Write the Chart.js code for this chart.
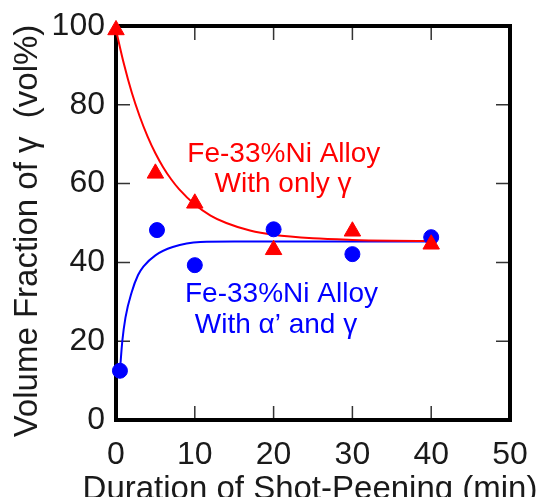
<!DOCTYPE html>
<html>
<head>
<meta charset="utf-8">
<script src="https://cdn.jsdelivr.net/npm/chart.js@4.4.1/dist/chart.umd.min.js"></script>
<style>
  html, body { margin: 0; padding: 0; background: #fff; }
  #wrap { width: 539px; height: 497px; position: relative; }
</style>
</head>
<body>
<div id="wrap"><canvas id="c" width="539" height="497"></canvas></div>
<script>
// ---- data ----
const xTicks = [0, 10, 20, 30, 40, 50];
const yTicks = [0, 20, 40, 60, 80, 100];
const xTitle = 'Duration of Shot-Peening (min)';
const yTitle = 'Volume Fraction of \u03B3  (vol%)';

// Fe-33%Ni alloy with only gamma (red triangles)
const onlyGammaTime = [0, 5, 10, 20, 30, 40];
const onlyGammaVol = [99, 62.6, 55.0, 43.2, 47.9, 44.6];

// Fe-33%Ni alloy with alpha' and gamma (blue circles)
const alphaGammaTime = [0.5, 5.2, 10, 20, 30, 40];
const alphaGammaVol = [12.5, 48.2, 39.3, 48.4, 42.1, 46.4];

// fitted curves
const redCurveTime = [0, 1, 2, 3, 4, 5, 6, 7, 8, 10, 12, 14, 17, 20, 25, 30, 35, 40];
const redCurveVol = [99.0, 90.4, 83.1, 77.1, 72.0, 67.7, 64.1, 61.1, 58.6, 54.7, 51.9, 50.0, 48.1, 47.0, 46.1, 45.7, 45.5, 45.4];
const blueCurveTime = [0.5, 0.8, 1.2, 2, 2.8, 3.5, 5, 7.2, 10.7, 15, 20, 30, 40];
const blueCurveVol = [12.5, 20, 26, 32.5, 36.8, 39, 41.8, 43.9, 45.2, 45.3, 45.3, 45.3, 45.3];

// annotation labels
const labelTexts = ['Fe-33%Ni Alloy', 'With only \u03B3', 'Fe-33%Ni Alloy', 'With \u03B1\u2019 and \u03B3'];
const labelX = [21.3, 21.2, 21.0, 20.3];
const labelY = [65.6, 57.9, 30.0, 22.0];
const labelColors = ['#ff0000', '#ff0000', '#0000ff', '#0000ff'];

const toPts = (xs, ys) => xs.map((x, i) => ({ x: x, y: ys[i] }));

const FONT = '"Liberation Sans", Arial, Helvetica, sans-serif';
const TEXT = '#1a1a1a';

const framePlugin = {
  id: 'frame',
  beforeDatasetsDraw(chart) {
    const { ctx, chartArea: a, scales } = chart;
    const xs = scales.x, ys = scales.y;
    ctx.save();
    ctx.strokeStyle = '#333';
    ctx.lineWidth = 1.5;
    const L = 14;
    ctx.beginPath();
    xTicks.forEach(v => {
      if (v === xs.min || v === xs.max) return;
      const px = xs.getPixelForValue(v);
      ctx.moveTo(px, a.bottom); ctx.lineTo(px, a.bottom - L);
      ctx.moveTo(px, a.top); ctx.lineTo(px, a.top + L);
    });
    yTicks.forEach(v => {
      if (v === ys.min || v === ys.max) return;
      const py = ys.getPixelForValue(v);
      ctx.moveTo(a.left, py); ctx.lineTo(a.left + L, py);
      ctx.moveTo(a.right, py); ctx.lineTo(a.right - L, py);
    });
    ctx.stroke();
    ctx.strokeStyle = '#000';
    ctx.lineWidth = 4;
    ctx.strokeRect(a.left, a.top, a.right - a.left, a.bottom - a.top);
    ctx.restore();
  },
  afterDatasetsDraw(chart) {
    const { ctx, scales, chartArea: a } = chart;
    ctx.save();
    ctx.font = '28px ' + FONT;
    ctx.textAlign = 'center';
    ctx.textBaseline = 'alphabetic';
    labelTexts.forEach((t, i) => {
      ctx.fillStyle = labelColors[i];
      ctx.fillText(t, scales.x.getPixelForValue(labelX[i]), scales.y.getPixelForValue(labelY[i]));
    });
    // axis titles (may extend beyond the plot width, as in the reference)
    ctx.fillStyle = TEXT;
    ctx.font = '33px ' + FONT;
    ctx.fillText(xTitle, (a.left + a.right) / 2 - 3, 498.5);
    ctx.translate(36.5, (a.top + a.bottom) / 2 + 8);
    ctx.rotate(-Math.PI / 2);
    ctx.fillText(yTitle, 0, 0);
    ctx.restore();
  }
};

new Chart(document.getElementById('c'), {
  type: 'scatter',
  data: {
    datasets: [
      {
        label: 'red fit',
        data: toPts(redCurveTime, redCurveVol),
        showLine: true, borderColor: '#ff0000', borderWidth: 2,
        pointRadius: 0, cubicInterpolationMode: 'monotone', order: 3, clip: false
      },
      {
        label: 'blue fit',
        data: toPts(blueCurveTime, blueCurveVol),
        showLine: true, borderColor: '#0000ff', borderWidth: 2,
        pointRadius: 0, cubicInterpolationMode: 'monotone', order: 3, clip: false
      },
      {
        label: 'Fe-33%Ni Alloy With only \u03B3',
        data: toPts(onlyGammaTime, onlyGammaVol),
        pointStyle: 'triangle', pointRadius: 9.5,
        backgroundColor: '#ff0000', borderColor: '#ff0000', borderWidth: 1,
        order: 1, clip: false
      },
      {
        label: 'Fe-33%Ni Alloy With \u03B1\u2019 and \u03B3',
        data: toPts(alphaGammaTime, alphaGammaVol),
        pointStyle: 'circle', pointRadius: 7.5,
        backgroundColor: '#0000ff', borderColor: '#0000ff', borderWidth: 1,
        order: 2, clip: false
      }
    ]
  },
  options: {
    responsive: false,
    animation: false,
    devicePixelRatio: 1,
    layout: { padding: { left: 0, top: 26, right: 29, bottom: 0 } },
    plugins: { legend: { display: false }, tooltip: { enabled: false } },
    scales: {
      x: {
        type: 'linear', min: 0, max: 50,
        afterBuildTicks: s => { s.ticks = xTicks.map(v => ({ value: v })); },
        afterFit: s => { s.height = 77; s.paddingLeft = 0; s.paddingRight = 0; s.paddingTop = 0; s.paddingBottom = 0; },
        grid: { display: false, drawTicks: false },
        border: { display: false },
        ticks: { font: { family: FONT, size: 32 }, color: TEXT, padding: 16, maxRotation: 0 },
        title: { display: false }
      },
      y: {
        type: 'linear', min: 0, max: 100,
        afterBuildTicks: s => { s.ticks = yTicks.map(v => ({ value: v })); },
        afterFit: s => { s.width = 116; s.paddingLeft = 0; s.paddingRight = 0; s.paddingTop = 0; s.paddingBottom = 0; },
        grid: { display: false, drawTicks: false },
        border: { display: false },
        ticks: { font: { family: FONT, size: 32 }, color: TEXT, padding: 11 },
        title: { display: false }
      }
    }
  },
  plugins: [framePlugin]
});
</script>
</body>
</html>
